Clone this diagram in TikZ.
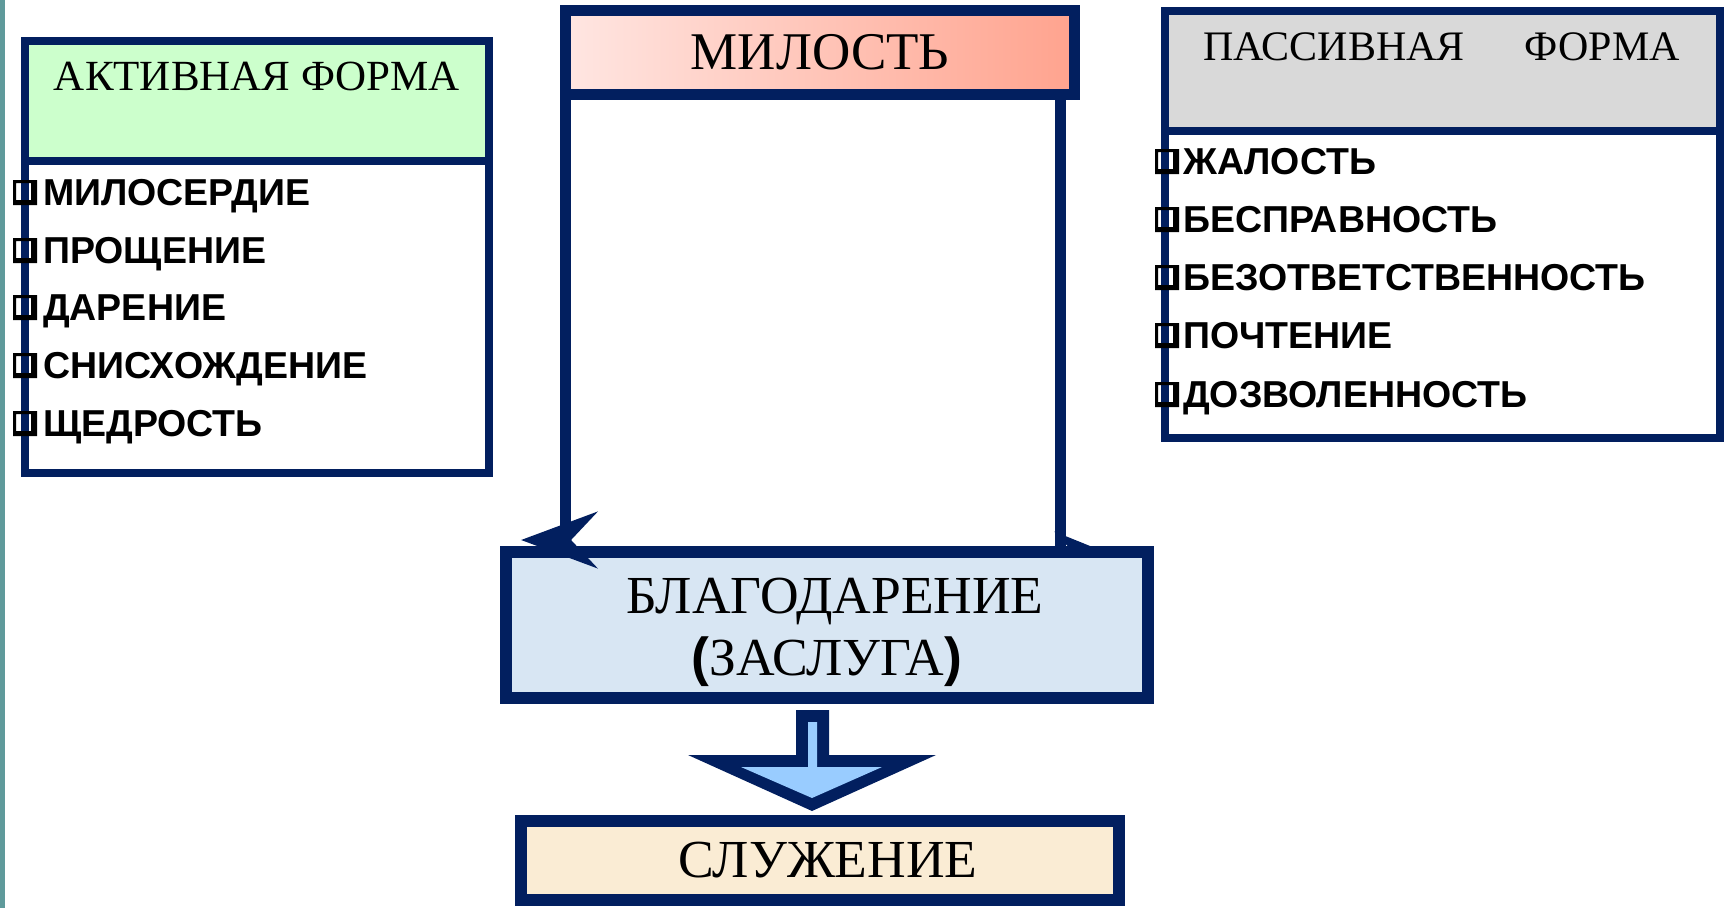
\documentclass[tikz,border=0pt]{standalone}
\usepackage{fontspec}
\setmainfont{Liberation Serif}
\newfontfamily\arialf{Liberation Sans}
\usetikzlibrary{arrows.meta,calc}
\definecolor{navy}{HTML}{021F5F}
\definecolor{milL}{HTML}{FFE6E2}
\definecolor{milR}{HTML}{FFA38E}
\definecolor{actg}{HTML}{CCFFCC}
\definecolor{pasg}{HTML}{D9D9D9}
\definecolor{blagc}{HTML}{D8E6F3}
\definecolor{sluzc}{HTML}{FAECD4}
\definecolor{arrowc}{HTML}{99CCFF}
\definecolor{tealbar}{HTML}{5F9A9B}
\tikzset{
  frame/.style={draw=navy, rectangle, inner sep=0, outer sep=0},
  item/.style={anchor=base west, inner sep=0, font=\arialf\bfseries\fontsize{37.5}{40}\selectfont},
  headtxt/.style={inner sep=0, font=\fontsize{43}{50}\selectfont},
  conn/.style={draw=navy, line width=11},
  bul/.pic={\fill[black, even odd rule] (0,0) rectangle (24,-25) (3,-22) rectangle (18,-5);}
}
\begin{document}
\begin{tikzpicture}[x=1pt,y=-1pt]
\useasboundingbox (0,0) rectangle (1725,908);
\fill[tealbar] (0,0) rectangle (5,908);

% active form
\node[frame, line width=8, minimum width=464, minimum height=120, fill=actg, anchor=north west] (acth) at (25,41) {};
\node[frame, line width=8, minimum width=464, minimum height=312, fill=white, anchor=north west] (actb) at (25,161) {};
\node[headtxt, anchor=base] (actt) at (257,90) {АКТИВНАЯ ФОРМА};

% passive form
\node[frame, line width=8, minimum width=555, minimum height=120, fill=pasg, anchor=north west] (pash) at (1165,11) {};
\node[frame, line width=8, minimum width=555, minimum height=307, fill=white, anchor=north west] (pasb) at (1165,131) {};
\node[headtxt, font=\fontsize{42}{50}\selectfont, anchor=base west] (past) at (1203,60) {ПАССИВНАЯ\hspace{60pt}ФОРМА};

% central boxes
\node[frame, line width=11, minimum width=509, minimum height=84, left color=milL, right color=milR,
  font=\fontsize{53}{60}\selectfont] (mil) at (820,52.5) {МИЛОСТЬ};
\coordinate (rt) at (1105,552);
\coordinate (lt) at (521,540);
\draw[conn, -{Stealth[length=50pt,width=40pt,inset=18pt]}] ($(mil.south east)+(-14.5,0)$) |- (rt);
\node[frame, line width=12, minimum width=642, minimum height=146, fill=blagc, align=center,
  font=\fontsize{53.5}{62}\selectfont] (blag) at (827,625)
  {\rule{0pt}{50pt}\hspace*{16pt}БЛАГОДАРЕНИЕ\\{\arialf\bfseries(}ЗАСЛУГА{\arialf\bfseries)}};
\draw[conn, -{Stealth[length=76pt,width=56pt,inset=26pt]}] (mil.south west) |- (lt);
\node[frame, line width=12, minimum width=598, minimum height=79, fill=sluzc,
  font=\fontsize{53.5}{60}\selectfont] (sluz) at (820,860.5) {\hspace*{16pt}СЛУЖЕНИЕ};

% block arrow from blag to sluz
\fill[navy] (796,710) -- (829,710) -- (829,755) -- (936,755) -- (812,811) -- (688,755) -- (796,755) -- cycle;
\fill[arrowc] (808,722) -- (817,722) -- (817,767) -- (882,767) -- (812,798) -- (741,767) -- (808,767) -- cycle;

% active items
\node[item] (a1) at (43,205) {МИЛОСЕРДИЕ};
\node[item] (a2) at (43,263) {ПРОЩЕНИЕ};
\node[item] (a3) at (43,320) {ДАРЕНИЕ};
\node[item] (a4) at (43,378) {СНИСХОЖДЕНИЕ};
\node[item] (a5) at (43,436) {ЩЕДРОСТЬ};
\foreach \y in {205,263,320,378,436} \pic at (13,\y) {bul};

% passive items
\node[item] (p1) at (1183,174) {ЖАЛОСТЬ};
\node[item] (p2) at (1183,232) {БЕСПРАВНОСТЬ};
\node[item] (p3) at (1183,290) {БЕЗОТВЕТСТВЕННОСТЬ};
\node[item] (p4) at (1183,348) {ПОЧТЕНИЕ};
\node[item] (p5) at (1183,407) {ДОЗВОЛЕННОСТЬ};
\foreach \y in {174,232,290,348,407} \pic at (1155,\y) {bul};
\end{tikzpicture}
\end{document}
